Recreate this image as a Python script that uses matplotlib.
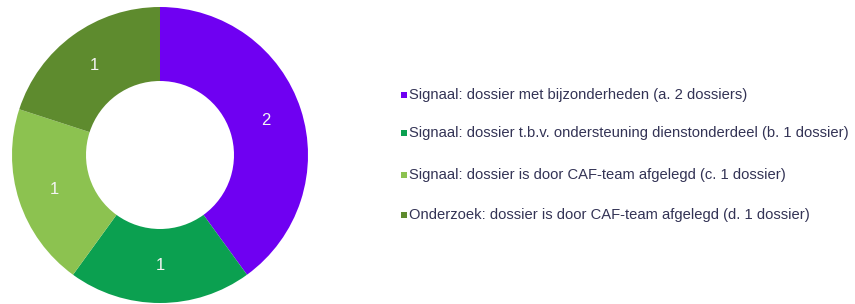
import matplotlib
matplotlib.use("Agg")
import matplotlib.pyplot as plt
from matplotlib.patches import Rectangle

labels = [
    "Signaal: dossier met bijzonderheden (a. 2 dossiers)",
    "Signaal: dossier t.b.v. ondersteuning dienstonderdeel (b. 1 dossier)",
    "Signaal: dossier is door CAF-team afgelegd (c. 1 dossier)",
    "Onderzoek: dossier is door CAF-team afgelegd (d. 1 dossier)",
]
values = [2, 1, 1, 1]
colors = ["#6f00f2", "#0ba050", "#8cc250", "#5e8b2e"]

W, H = 855, 304
fig = plt.figure(figsize=(W / 100, H / 100), dpi=100)
fig.patch.set_facecolor("white")

cx, cy, R = 160, 155, 148
ax = fig.add_axes([(cx - R) / W, (H - cy - R) / H, 2 * R / W, 2 * R / H])
wedges, texts = ax.pie(
    values, colors=colors, startangle=90, counterclock=False,
    radius=1.0, wedgeprops=dict(width=0.5, linewidth=0),
    labels=[str(v) for v in values], labeldistance=0.75,
    textprops=dict(color="#f4f4f4", fontsize=12, ha="center", va="center",
                   family="Liberation Sans"),
)
ax.set_xlim(-1, 1)
ax.set_ylim(-1, 1)
ax.set_aspect("equal")
ax.axis("off")

ys = [95, 133, 175, 215]
for lab, col, y in zip(labels, colors, ys):
    fig.patches.append(Rectangle((401 / W, (H - y - 3) / H), 6 / W, 6 / H,
                                 transform=fig.transFigure, facecolor=col,
                                 edgecolor="none"))
    fig.text(409 / W, (H - y) / H, lab, fontsize=10.6, color="#333355",
             va="center", ha="left", family="Liberation Sans")

fig.savefig("out.png", dpi=100)
